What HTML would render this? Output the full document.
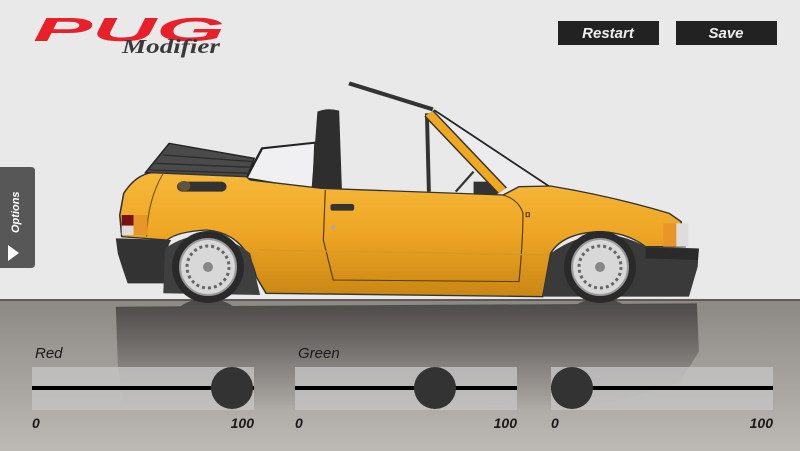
<!DOCTYPE html>
<html><head><meta charset="utf-8"><style>
html,body{margin:0;padding:0;width:800px;height:451px;overflow:hidden;background:#e9e9e9;font-family:"Liberation Sans",sans-serif}
svg{display:block}
</style></head><body>
<svg width="800" height="451" viewBox="0 0 800 451" xmlns="http://www.w3.org/2000/svg">
<defs>
<linearGradient id="gnd" x1="0" y1="0" x2="0" y2="1"><stop offset="0" stop-color="#8c8884"/><stop offset="1" stop-color="#bdb9b4"/></linearGradient>
<linearGradient id="body" x1="0" y1="0" x2="0" y2="1"><stop offset="0" stop-color="#f6b93a"/><stop offset="0.5" stop-color="#eea524"/><stop offset="1" stop-color="#c88614"/></linearGradient>
<linearGradient id="shf" x1="0" y1="0" x2="0" y2="1"><stop offset="0" stop-color="#fff" stop-opacity="0.9"/><stop offset="0.6" stop-color="#fff" stop-opacity="0.3"/><stop offset="1" stop-color="#fff" stop-opacity="0"/></linearGradient>
<mask id="m"><rect x="0" y="300" width="800" height="110" fill="url(#shf)"/></mask>
</defs>
<rect x="0" y="0" width="800" height="300" fill="#e9e9e9"/>
<rect x="0" y="300" width="800" height="151" fill="url(#gnd)"/>
<rect x="0" y="299" width="800" height="2" fill="#5e5a57"/>
<!-- reflection -->
<g mask="url(#m)">
<g transform="translate(0,600) scale(1,-1)">
<g transform="translate(100,80) scale(0.3953,0.3333)">
<path d="M45,470 L60,340 Q90,285 130,278 L175,190 L390,235 L540,190 L550,95 L605,90 L610,330 L1020,345 L1140,318 Q1300,350 1440,400 L1470,420 L1515,505 L1510,650 L40,640 Z" fill="#464242"/>
<circle cx="270" cy="560" r="105" fill="#464242"/>
<circle cx="1265" cy="560" r="105" fill="#464242"/>
</g></g></g>
<!-- car -->
<g transform="translate(100,80) scale(0.3953,0.3333)">
<line x1="630" y1="10" x2="842" y2="88" stroke="#333" stroke-width="12"/>
<path d="M370,295 L410,205 L545,188 L540,330 Z" fill="#f0f0f2" stroke="#222" stroke-width="6"/>
<path d="M115,278 L175,190 L390,235 L372,292 Z" fill="#4a4a4a" stroke="#222" stroke-width="4"/>
<path d="M125,270 L380,280 M140,250 L385,262 M160,225 L388,245" stroke="#2c2c2c" stroke-width="4"/>
<path d="M535,330 L550,95 Q575,82 605,92 L612,330 Z" fill="#2e2e2e"/>
<line x1="827" y1="100" x2="832" y2="335" stroke="#333" stroke-width="10"/>
<path d="M900,335 L945,275" stroke="#333" stroke-width="6"/>
<rect x="945" y="305" width="60" height="40" fill="#333"/>
<path d="M845,90 L1135,315 L1020,335 Z" fill="#ececee"/>
<line x1="845" y1="90" x2="1135" y2="318" stroke="#222" stroke-width="5"/>
<line x1="832" y1="100" x2="1018" y2="332" stroke="#333" stroke-width="30"/>
<line x1="832" y1="100" x2="1018" y2="332" stroke="#f0a820" stroke-width="22"/>
<path d="M50,405 L60,340 Q90,285 130,278 L370,290 L380,300 L560,325 L1020,345 L1060,320 L1140,318 Q1300,350 1440,400 L1470,425 L1480,500 L1380,500 Q1330,455 1260,455 Q1170,460 1140,520 L1120,650 L420,640 L395,590 Q370,460 270,450 Q195,455 170,480 L55,470 Z" fill="url(#body)" stroke="#333" stroke-width="4"/>
<path d="M570,330 L565,480 L590,600 L1060,605 Q1070,480 1070,400 Q1060,360 1020,345" fill="none" stroke="#5a3c08" stroke-width="3"/>
<path d="M160,280 Q120,360 118,470" fill="none" stroke="#7a5410" stroke-width="3"/>
<path d="M400,510 L1135,525" stroke="#d79822" stroke-width="4"/>
<rect x="195" y="305" width="125" height="30" rx="14" fill="#333"/>
<circle cx="213" cy="318" r="14" fill="#555" stroke="#7a5410" stroke-width="3"/>
<rect x="583" y="372" width="60" height="20" rx="6" fill="#333"/>
<rect x="1078" y="398" width="8" height="12" fill="none" stroke="#5a3c08" stroke-width="3"/>
<circle cx="590" cy="442" r="6" fill="#aaa"/>
<rect x="55" y="405" width="30" height="32" fill="#7a1010"/>
<rect x="55" y="437" width="30" height="28" fill="#ddd"/>
<rect x="85" y="405" width="35" height="60" fill="#e8952a"/>
<rect x="1425" y="430" width="35" height="70" fill="#e8952a"/>
<rect x="1458" y="430" width="30" height="70" fill="#ddd"/>
<path d="M40,475 L180,480 Q160,520 165,610 L70,610 Q55,560 45,520 Z" fill="#333"/>
<path d="M165,505 Q270,420 380,520 L405,645 L160,640 Z" fill="#3f3f3f"/>
<path d="M1140,520 Q1260,420 1380,500 L1515,505 L1512,560 L1490,650 L1120,650 Z" fill="#3a3a3a"/>
<path d="M1380,502 L1515,508 L1512,540 L1380,535 Z" fill="#2a2a2a"/>
</g>
<!-- wheels -->
<g>
<circle cx="208" cy="267" r="36" fill="#2a2a2a"/>
<circle cx="208" cy="267" r="28" fill="#d8d8d8" stroke="#999" stroke-width="2"/>
<circle cx="208" cy="267" r="21" fill="none" stroke="#666" stroke-width="3" stroke-dasharray="3 3"/>
<circle cx="208" cy="267" r="5" fill="#888"/>
<circle cx="600" cy="267" r="36" fill="#2a2a2a"/>
<circle cx="600" cy="267" r="28" fill="#d8d8d8" stroke="#999" stroke-width="2"/>
<circle cx="600" cy="267" r="21" fill="none" stroke="#666" stroke-width="3" stroke-dasharray="3 3"/>
<circle cx="600" cy="267" r="5" fill="#888"/>
</g>
<!-- logo -->
<text x="33" y="41" font-family="Liberation Sans" font-weight="bold" font-style="italic" font-size="33" fill="#e8202a" textLength="192" lengthAdjust="spacingAndGlyphs">PUG</text>
<text x="122" y="53" font-family="Liberation Serif" font-style="italic" font-weight="bold" font-size="20" fill="#3a3a3a" textLength="98" lengthAdjust="spacingAndGlyphs">Modifier</text>
<!-- buttons -->
<rect x="558" y="21" width="101" height="24" fill="#222"/>
<text x="608" y="38" text-anchor="middle" font-style="italic" font-weight="bold" font-size="15" fill="#eee">Restart</text>
<rect x="676" y="21" width="101" height="24" fill="#222"/>
<text x="726" y="38" text-anchor="middle" font-style="italic" font-weight="bold" font-size="15" fill="#eee">Save</text>
<!-- options -->
<path d="M0,167 L31,167 Q35,167 35,171 L35,264 Q35,268 31,268 L0,268 Z" fill="#575757"/>
<text transform="translate(19,233) rotate(-90)" font-style="italic" font-weight="bold" font-size="11" fill="#fff">Options</text>
<path d="M8,245 L19,253 L8,261 Z" fill="#fff"/>
<!-- sliders -->
<g font-style="italic" fill="#1a1a1a">
<text x="35" y="358" font-size="15">Red</text>
<text x="298" y="358" font-size="15">Green</text>
<rect x="32" y="367" width="222" height="43" fill="#c4c4c4" fill-opacity="0.8"/>
<rect x="295" y="367" width="222" height="43" fill="#c4c4c4" fill-opacity="0.8"/>
<rect x="551" y="367" width="222" height="43" fill="#c4c4c4" fill-opacity="0.8"/>
<rect x="32" y="386" width="222" height="4" fill="#000"/>
<rect x="295" y="386" width="222" height="4" fill="#000"/>
<rect x="551" y="386" width="222" height="4" fill="#000"/>
<circle cx="232" cy="388" r="21" fill="#333"/>
<circle cx="435" cy="388" r="21" fill="#333"/>
<circle cx="572" cy="388" r="21" fill="#333"/>
<g font-weight="bold" font-size="14">
<text x="32" y="428">0</text><text x="254" y="428" text-anchor="end">100</text>
<text x="295" y="428">0</text><text x="517" y="428" text-anchor="end">100</text>
<text x="551" y="428">0</text><text x="773" y="428" text-anchor="end">100</text>
</g>
</g>
</svg>
</body></html>
